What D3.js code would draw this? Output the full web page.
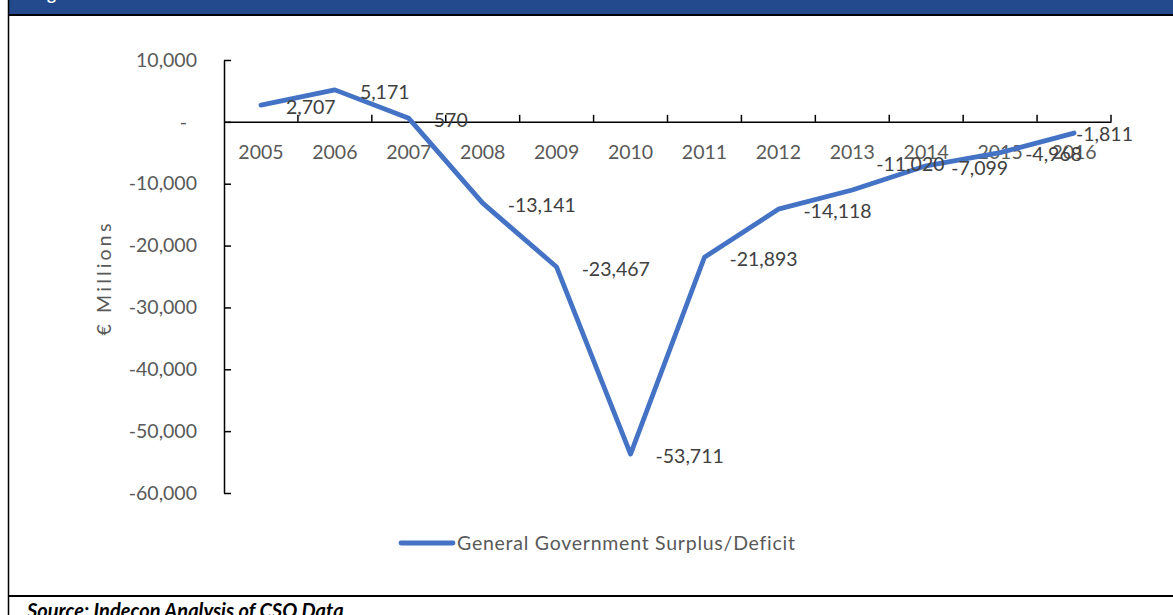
<!DOCTYPE html>
<html>
<head>
<meta charset="utf-8">
<script src="https://cdn.jsdelivr.net/npm/d3@7"></script>
<style>
  html, body { margin: 0; padding: 0; background: #fff; }
  svg { display: block; font-family: Lato, "Open Sans", sans-serif; }
</style>
</head>
<body>
<svg id="chart" width="1173" height="615"></svg>
<script>
// ---- data ----
const years = ["2005","2006","2007","2008","2009","2010","2011","2012","2013","2014","2015","2016"];
const values = [2707, 5171, 570, -13141, -23467, -53711, -21893, -14118, -11020, -7099, -4968, -1811];
const yTicks = [10000, 0, -10000, -20000, -30000, -40000, -50000, -60000];
const seriesName = "General Government Surplus/Deficit";
const yTitle = "€ Millions";
const figureTitle = "Figure";
const sourceText = "Source: Indecon Analysis of CSO Data";

// ---- layout ----
const W = 1173, H = 615;
const plot = { left: 224, right: 1111, top: 60, bottom: 493 };
const fs = 19.5;
const axisColor = "#595959", labelColor = "#404040", lineColor = "#4472C4";

const svg = d3.select("#chart");

// frame: header band, borders
svg.append("rect").attr("x", 9).attr("y", 0).attr("width", W - 9).attr("height", 14).attr("fill", "#244A8E");
svg.append("text").attr("x", 33).attr("y", 0).attr("fill", "#fff")
  .attr("font-weight", "bold").attr("font-size", 17).text(figureTitle);
svg.append("line").attr("x1", 8).attr("x2", W).attr("y1", 15).attr("y2", 15).attr("stroke", "#000").attr("stroke-width", 2);
svg.append("line").attr("x1", 8.5).attr("x2", 8.5).attr("y1", 0).attr("y2", H).attr("stroke", "#000").attr("stroke-width", 1.5);
svg.append("line").attr("x1", 8).attr("x2", W).attr("y1", 596).attr("y2", 596).attr("stroke", "#000").attr("stroke-width", 2);
svg.append("text").attr("x", 27).attr("y", 618).attr("fill", "#000")
  .attr("font-weight", "bold").attr("font-style", "italic").attr("font-size", 20).text(sourceText);

// scales
const x = d3.scaleBand().domain(years).range([plot.left, plot.right]).paddingInner(0).paddingOuter(0);
const y = d3.scaleLinear().domain([-60000, 10000]).range([plot.bottom, plot.top]);
const fmt = v => v === 0 ? "-" : d3.format(",")(v).replace("\u2212", "-");

// y axis
const yAxis = svg.append("g").attr("transform", `translate(${plot.left},0)`)
  .call(d3.axisLeft(y).tickValues(yTicks).tickSize(-7).tickSizeOuter(0).tickPadding(27).tickFormat(fmt));
yAxis.select(".domain").attr("stroke", "#000").attr("stroke-width", 1.5);
yAxis.selectAll(".tick line").attr("stroke", "#000").attr("stroke-width", 1.5);
yAxis.selectAll(".tick text").attr("fill", axisColor).attr("font-size", fs).attr("font-family", "Lato, sans-serif");
yAxis.selectAll(".tick").filter(d => d === 0).select("text").attr("dx", -10);

// x axis
const y0 = y(0);
const xAxis = svg.append("g").attr("transform", `translate(0,${y0})`)
  .call(d3.axisBottom(x).tickSize(0).tickPadding(23));
xAxis.select(".domain").attr("stroke", "#000").attr("stroke-width", 1.5);
xAxis.selectAll(".tick text").attr("fill", axisColor).attr("font-size", fs).attr("font-family", "Lato, sans-serif");
const bounds = years.map(d => x(d)).concat([x.range()[1]]);
svg.append("g").selectAll("line").data(bounds.slice(1)).join("line")
  .attr("x1", d => d).attr("x2", d => d).attr("y1", y0).attr("y2", y0 - 7)
  .attr("stroke", "#000").attr("stroke-width", 1.5);

// y title
svg.append("text").attr("transform", `translate(111,278) rotate(-90)`)
  .attr("text-anchor", "middle").attr("fill", axisColor).attr("font-size", fs)
  .attr("letter-spacing", 3.2).text(yTitle);

// series line
const pts = years.map((yr, i) => ({ year: yr, value: values[i] }));
const cx = d => x(d.year) + x.bandwidth() / 2;
svg.append("path").datum(pts)
  .attr("d", d3.line().x(cx).y(d => y(d.value)))
  .attr("fill", "none").attr("stroke", lineColor).attr("stroke-width", 4.8)
  .attr("stroke-linecap", "round").attr("stroke-linejoin", "round");

// data labels
const labelShift = { "2013": { dx: 24, dy: -26 }, "2016": { dx: 2, dy: 1 } };
svg.append("g").selectAll("text").data(pts).join("text")
  .attr("x", d => cx(d) + (labelShift[d.year] ? labelShift[d.year].dx : 25))
  .attr("y", d => y(d.value) + (labelShift[d.year] ? labelShift[d.year].dy : 2))
  .attr("dy", "0.35em").attr("fill", labelColor).attr("font-size", fs)
  .text(d => fmt(d.value));

// legend
svg.append("line").attr("x1", 401).attr("x2", 453).attr("y1", 543).attr("y2", 543)
  .attr("stroke", lineColor).attr("stroke-width", 4.8).attr("stroke-linecap", "round");
svg.append("text").attr("x", 457).attr("y", 543).attr("dy", "0.35em")
  .attr("fill", axisColor).attr("font-size", fs).attr("letter-spacing", 0.75).text(seriesName);
</script>
</body>
</html>
